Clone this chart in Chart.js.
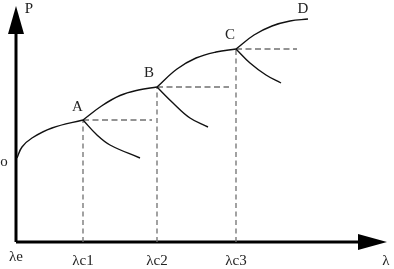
<!DOCTYPE html>
<html>
<head>
<meta charset="utf-8">
<script src="https://cdn.jsdelivr.net/npm/chart.js@4/dist/chart.umd.min.js"></script>
<style>
  html, body { margin: 0; padding: 0; background: #fff; }
  #wrap { width: 394px; height: 269px; position: relative; }
</style>
</head>
<body>
<div id="wrap"><canvas id="myChart"></canvas></div>
<script>
// ---- data (λ along x, P along y, units) ----
const lambdaTicks = [0, 6.7, 14.1, 22.0];
const tickLabels = ["λe", "λc1", "λc2", "λc3"];
const peakP = [12.2, 15.5, 19.3]; // A, B, C
const axisEnds = { x: 37.1, y: 23.6 };

// rising branches
const curveOA = [[0.1, 8.4], [0.6, 9.5], [1.6, 10.4], [3.6, 11.4], [6.7, 12.2]];
const curveAB = [[6.7, 12.2], [8.55, 13.6], [10.4, 14.65], [12.25, 15.2], [14.1, 15.5]];
const curveBC = [[14.1, 15.5], [16.1, 17.3], [18.0, 18.4], [20.0, 19.0], [22.0, 19.3]];
const curveCD = [[22.0, 19.3], [23.8, 20.7], [25.6, 21.6], [27.4, 22.1], [29.2, 22.3]];
// falling branches
const fallA = [[6.7, 12.2], [8.1, 10.7], [9.4, 9.7], [12.4, 8.4]];
const fallB = [[14.1, 15.5], [15.7, 13.9], [17.4, 12.4], [19.2, 11.5]];
const fallC = [[22.0, 19.3], [23.4, 17.9], [25.0, 16.7], [26.5, 15.9]];
// end of horizontal dashed guides
const dashEnds = [13.6, 21.3, 28.1];

// text labels: [text, x, y]
const pointLabels = [["A", 6.15, 13.5], ["B", 13.3, 16.9], ["C", 21.4, 20.7], ["D", 28.7, 23.3]];
const axisLabels = [["P", 1.3, 23.3], ["λ", 37.0, -1.9], ["o", -1.2, 8.0]];
const tickLabelY = [-1.5, -1.9, -1.9, -1.9];

const toPts = (arr) => arr.map((p) => ({ x: p[0], y: p[1] }));

const datasets = [];

function curve(arr) {
  return {
    data: toPts(arr),
    showLine: true,
    borderColor: "#111",
    borderWidth: 1.4,
    pointRadius: 0,
    tension: 0.4,
  };
}
[curveOA, curveAB, curveBC, curveCD, fallA, fallB, fallC].forEach((c) => datasets.push(curve(c)));

// dashed guides
for (let i = 0; i < peakP.length; i++) {
  const lx = lambdaTicks[i + 1];
  datasets.push({
    data: [{ x: lx, y: 0 }, { x: lx, y: peakP[i] }],
    showLine: true, borderColor: "#707070", borderWidth: 1.3,
    borderDash: [5, 3.5], pointRadius: 0,
  });
  datasets.push({
    data: [{ x: lx, y: peakP[i] }, { x: dashEnds[i], y: peakP[i] }],
    showLine: true, borderColor: "#707070", borderWidth: 1.3,
    borderDash: [6, 3.5], pointRadius: 0,
  });
}

// axis lines
datasets.push({
  data: [{ x: 0, y: 0 }, { x: axisEnds.x - 1, y: 0 }],
  showLine: true, borderColor: "#000", borderWidth: 3, pointRadius: 0,
});
datasets.push({
  data: [{ x: 0, y: 0 }, { x: 0, y: axisEnds.y - 1 }],
  showLine: true, borderColor: "#000", borderWidth: 3, pointRadius: 0,
});

// arrows + text
const decor = {
  id: "decor",
  afterDatasetsDraw(chart) {
    const { ctx, scales } = chart;
    const xs = scales.x, ys = scales.y;
    const ox = xs.getPixelForValue(0), oy = ys.getPixelForValue(0);
    ctx.save();
    ctx.fillStyle = "#000";
    // x arrow
    let tx = xs.getPixelForValue(axisEnds.x);
    ctx.beginPath();
    ctx.moveTo(tx, oy);
    ctx.lineTo(tx - 29, oy - 8);
    ctx.lineTo(tx - 29, oy + 8);
    ctx.closePath();
    ctx.fill();
    // y arrow
    let ty = ys.getPixelForValue(axisEnds.y);
    ctx.beginPath();
    ctx.moveTo(ox, ty);
    ctx.lineTo(ox - 8, ty + 28);
    ctx.lineTo(ox + 8, ty + 28);
    ctx.closePath();
    ctx.fill();

    ctx.fillStyle = "#222";
    ctx.textAlign = "center";
    ctx.textBaseline = "middle";
    ctx.font = '15px "Liberation Serif", "DejaVu Serif", serif';
    pointLabels.concat(axisLabels).forEach((l) => {
      ctx.fillText(l[0], xs.getPixelForValue(l[1]), ys.getPixelForValue(l[2]));
    });
    tickLabels.forEach((t, i) => {
      ctx.fillText(t, xs.getPixelForValue(lambdaTicks[i]), ys.getPixelForValue(tickLabelY[i]));
    });
    ctx.restore();
  },
};

new Chart(document.getElementById("myChart"), {
  type: "scatter",
  data: { datasets: datasets },
  options: {
    responsive: true,
    maintainAspectRatio: false,
    animation: false,
    layout: { padding: 0 },
    plugins: { legend: { display: false }, tooltip: { enabled: false } },
    scales: {
      x: { type: "linear", display: false, min: -1.6, max: 37.8 },
      y: { type: "linear", display: false, min: -2.7, max: 24.2 },
    },
  },
  plugins: [decor],
});
</script>
</body>
</html>
